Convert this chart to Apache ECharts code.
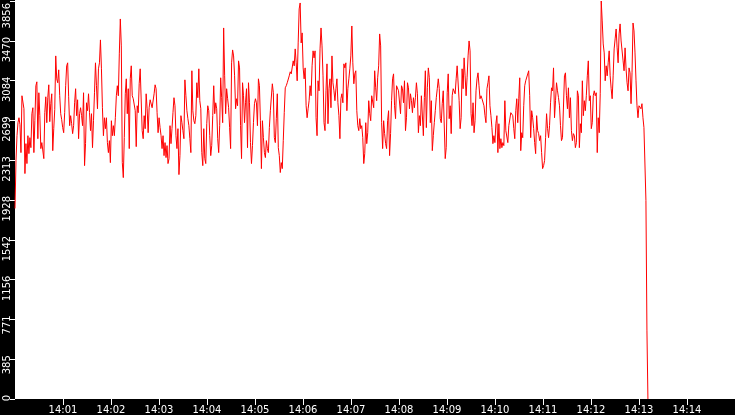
<!DOCTYPE html>
<html>
<head>
<meta charset="utf-8">
<script src="https://cdn.jsdelivr.net/npm/echarts@6/dist/echarts.min.js"></script>
<style>
html,body{margin:0;padding:0;background:#fff;}
#c{width:735px;height:415px;}
</style>
</head>
<body>
<div id="c"></div>
<script>
// time range of the axis
const axisStart = [14, 0, 0];
const axisEnd = [14, 15, 0];
const tickStepMs = 60000;
const sampleStepMs = 1242;
const yMax = 3856;
const yInterval = 385.6;

// series values
const values = [
1846,2310,2551,2677,2725,2658,2387,2938,2948,2812,
2184,2474,2281,2551,2377,2532,2435,2764,2822,2387,
2696,3035,3073,2522,2967,2745,2426,2484,2474,2329,
2774,2928,2677,2919,3044,2687,2861,2957,2406,2619,
2803,3324,3102,3064,3189,2938,2764,2706,2629,2580,
2774,3035,3228,3257,2928,2648,2745,2667,2571,2648,
2870,3006,2745,2899,2522,2764,2822,2745,2648,2967,
2261,2474,2870,2793,2957,2774,2600,2764,2435,2696,
2967,3257,3035,2812,3199,3257,3479,3199,2822,2551,
2725,2619,2725,2484,2387,2503,2290,
2696,2551,2648,2551,2725,2938,3035,2938,3344,3682,
3421,2290,2145,2532,2957,3102,2764,3006,2426,3102,
3228,2938,2909,2919,2793,2445,2841,2774,3054,3199,
3208,2600,2522,2745,2619,2957,2812,2580,2822,2899,
2899,2822,2841,2957,3044,3006,2774,2580,2725,2629,
2551,2426,2551,2358,2484,2339,2455,2281,2329,2648,
2474,2619,2774,2919,2841,2551,2426,2619,2174,2358,
2745,2677,2600,2522,3092,2938,2793,2716,2648,2522,
2387,3180,2793,2696,2667,2745,3064,2919,3199,2890,
2812,
2387,2261,2619,2329,2281,2667,2841,2793,2551,2358,
2455,2745,3035,2764,2870,2812,2522,2387,2648,3112,
2919,2677,3595,3131,2764,3006,2909,2822,2629,2426,
3257,3382,3324,3131,2812,2909,2841,3276,3208,2648,
2329,3064,2938,2677,2870,3006,2435,3064,2870,2484,
2281,2455,2677,2861,2909,2870,2648,3102,3035,2696,
2232,2696,2532,2387,2339,2503,2426,2387,2629,2793,
2812,3054,2967,2532,2484,2716,2957,2435,2358,2194,
2290,2232,2503,2774,3015,3035,3064,3083,3131,3170,
3150,
3141,3276,3228,3392,3257,3083,3450,3779,3837,3450,
3547,3208,3102,3208,2841,2725,2812,2890,3035,2938,
3228,3373,3305,3373,2725,2551,3083,2986,3392,3595,
3421,3131,2677,2600,2986,3247,2667,3006,3102,2822,
3324,3064,2986,2890,3006,3102,2870,2745,2522,2909,
2957,2870,3247,3208,3257,2793,3006,3102,3199,3324,
3614,3257,3054,3150,3180,2793,2648,2600,2716,2619,
2648,2532,2281,2377,2677,2474,2580,2890,2764,2696,
2938,2938,2822,3180,3015,2890,3112,3228,3537,3421,
2677,2426,2696,2571,2474,2426,2696,2793,2358,2571,
2890,3102,3150,2841,2716,3035,3035,2986,2967,2764,
3035,3006,2870,3083,2600,2725,3064,3015,2812,2957,
2890,2774,2919,2822,2919,3064,2957,2580,2745,2648,
2938,2938,2551,2919,3180,2629,3015,3208,3112,2677,
2890,2406,2551,2677,2793,2919,3006,3102,3006,2716,
2677,2861,2986,2986,2329,2435,2967,3150,2716,2841,
2571,2938,3006,3015,2957,3102,3228,3228,2890,2619,
2725,3199,3006,3305,3131,2938,3112,3324,3469,3373,
2764,2648,2870,2580,2696,2986,3102,3160,3035,2909,
2938,2909,2919,2841,2745,2677,3006,3064,3131,2841,
2745,2629,2474,2551,2484,2667,2745,2387,2667,2426,
2522,2435,2484,2455,2890,2600,2619,2484,2648,2648,
2774,2774,2745,2619,2522,2793,2909,2677,2909,3112,
2406,2580,2532,2841,3035,3083,3064,3083,3180,2938,
2532,2793,2725,2619,2484,2377,2745,2600,2571,2503,
2551,2387,2232,2261,2310,2532,2764,2619,2532,2648,
2870,3015,2986,3208,2725,2890,3064,2986,2919,2841,
2648,2503,2532,2522,3131,3160,2938,2812,3015,2725,
2919,2600,2503,2571,2551,2435,2484,2986,2938,2435,
2667,2580,3083,2745,2890,2793,2938,3131,3276,2890,
2938,2619,2677,2938,2986,2938,2967,2387,2725,2580,
2957,3856,3663,3440,3353,3083,3228,3131,3257,3373,
3131,3006,2909,3131,3392,3489,3585,3402,3257,3537,
3634,3469,3450,3276,3180,3402,3199,3064,2986,3208,
3160,2861,3160,3643,3566,3353,3083,2841,2725,2841,
2822,2812,2861,2725,2629,2619,1923,667,0
];

const t0 = new Date(2000, 0, 1, axisStart[0], axisStart[1], axisStart[2]).getTime();
const t1 = new Date(2000, 0, 1, axisEnd[0], axisEnd[1], axisEnd[2]).getTime();
const seriesData = values.map((v, i) => [t0 + i * sampleStepMs, v]);

const pad = n => (n < 10 ? '0' : '') + n;
const font = 'DejaVu Sans';

const chart = echarts.init(document.getElementById('c'), null, {renderer: 'canvas'});
chart.setOption({
  backgroundColor: '#ffffff',
  animation: false,
  graphic: [
    {type: 'rect', z: -10, silent: true, left: 0, top: 0, shape: {width: 15, height: 415}, style: {fill: '#000000'}},
    {type: 'rect', z: -10, silent: true, left: 0, bottom: 0, shape: {width: 735, height: 16}, style: {fill: '#000000'}}
  ],
  grid: {
    left: 15, right: 0, top: 0, bottom: 16,
    show: false,
    containLabel: false
  },
  xAxis: {
    type: 'value',
    min: t0, max: t1, interval: tickStepMs,
    axisLine: {show: false},
    axisTick: {show: true, length: 6, lineStyle: {color: '#ffffff', width: 1}},
    splitLine: {show: false},
    axisLabel: {
      color: '#ffffff', fontFamily: font, fontSize: 10, margin: 6,
      showMinLabel: false, showMaxLabel: false, hideOverlap: false,
      formatter: function (val) {
        const d = new Date(val);
        return pad(d.getHours()) + ':' + pad(d.getMinutes());
      }
    }
  },
  yAxis: {
    type: 'value',
    min: 0, max: yMax, interval: yInterval,
    axisLine: {show: false},
    axisTick: {show: true, length: 5, lineStyle: {color: '#ffffff', width: 1}},
    splitLine: {show: false},
    axisLabel: {
      color: '#ffffff', fontFamily: font, fontSize: 10, margin: 3,
      rotate: 90, align: 'right', verticalAlign: 'bottom',
      padding: [0, -4, 0, 0],
      showMinLabel: true, showMaxLabel: true,
      formatter: function (v) {
        const s = String(Math.floor(v + 1e-6));
        return v >= yMax - 1e-6 ? '{top|' + s + '}' : s;
      },
      rich: {
        top: {color: '#ffffff', fontFamily: font, fontSize: 10, padding: [0, 6, 0, 0]}
      }
    }
  },
  series: [{
    type: 'line',
    data: seriesData,
    showSymbol: false,
    symbol: 'none',
    lineStyle: {color: '#ff0000', width: 1},
    itemStyle: {color: '#ff0000'}
  }]
});
</script>
</body>
</html>
